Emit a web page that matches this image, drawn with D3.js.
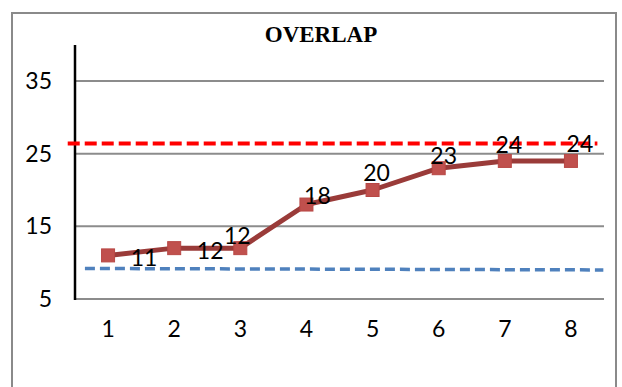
<!DOCTYPE html>
<html>
<head>
<meta charset="utf-8">
<script src="https://cdn.jsdelivr.net/npm/d3@7/dist/d3.min.js"></script>
<style>
  html, body { margin: 0; padding: 0; background: #fff; }
  svg { display: block; }
</style>
</head>
<body>
<svg id="chart" width="622" height="387"></svg>
<script>
// Overlap per step
const categories = ["1", "2", "3", "4", "5", "6", "7", "8"];
const overlapValues = [11, 12, 12, 18, 20, 23, 24, 24];
const yTicks = [5, 15, 25, 35];
// Reference limits (value at start, value at end)
const upperLimit = [26.4, 26.4];
const lowerLimit = [9.2, 9.0];
const chartTitle = "OVERLAP";

const svg = d3.select("#chart");
const plot = { left: 75, right: 604, top: 45, bottom: 299 };
const labelFont = "Lato, 'Open Sans', sans-serif";
const labelSize = 23;

// Outer frame
svg.append("rect")
  .attr("x", 12).attr("y", 13)
  .attr("width", 604).attr("height", 400)
  .attr("fill", "#fff")
  .attr("stroke", "#8a8a8a")
  .attr("stroke-width", 2);

// Title
svg.append("text")
  .attr("x", 321).attr("y", 42)
  .attr("text-anchor", "middle")
  .attr("font-family", "'Liberation Serif', 'Times New Roman', serif")
  .attr("font-weight", "bold")
  .attr("font-size", 23)
  .attr("fill", "#000")
  .text(chartTitle);

// Scales
const x = d3.scaleBand().domain(categories).range([plot.left, plot.right]);
const xPos = d3.scaleLinear().domain([0.5, categories.length + 0.5]).range([plot.left, plot.right]);
const y = d3.scaleLinear().domain([5, 35]).range([plot.bottom, 81]);
const cx = c => x(c) + x.bandwidth() / 2;

// Gridlines
svg.append("g").selectAll("line")
  .data(yTicks)
  .join("line")
  .attr("x1", plot.left).attr("x2", plot.right)
  .attr("y1", d => y(d)).attr("y2", d => y(d))
  .attr("stroke", "#8c8c8c")
  .attr("stroke-width", 2);

// Y axis
const yAxis = d3.axisLeft(y).tickValues(yTicks).tickSize(0).tickPadding(23);
const gy = svg.append("g")
  .attr("transform", `translate(${plot.left},0)`)
  .call(yAxis);
gy.select(".domain").remove();
gy.selectAll("text")
  .attr("font-family", labelFont)
  .attr("font-size", labelSize)
  .attr("fill", "#000");
svg.append("line")
  .attr("x1", plot.left).attr("x2", plot.left)
  .attr("y1", plot.top).attr("y2", plot.bottom + 1)
  .attr("stroke", "#000")
  .attr("stroke-width", 2.5);

// X axis labels
const xAxis = d3.axisBottom(x).tickSize(0).tickPadding(22);
const gx = svg.append("g")
  .attr("transform", `translate(0,${plot.bottom})`)
  .call(xAxis);
gx.select(".domain").remove();
gx.selectAll("text")
  .attr("font-family", labelFont)
  .attr("font-size", labelSize)
  .attr("fill", "#000");

// Reference limit lines
const limitLine = d3.line().x(d => xPos(d[0])).y(d => y(d[1]));
svg.append("path")
  .datum([[0.39, upperLimit[0]], [8.4, upperLimit[1]]])
  .attr("d", limitLine)
  .attr("fill", "none")
  .attr("stroke", "#ff0000")
  .attr("stroke-width", 4)
  .attr("stroke-dasharray", "12 5");
svg.append("path")
  .datum([[0.65, lowerLimit[0]], [8.49, lowerLimit[1]]])
  .attr("d", limitLine)
  .attr("fill", "none")
  .attr("stroke", "#4f81bd")
  .attr("stroke-width", 3.5)
  .attr("stroke-dasharray", "10 5");

// Overlap series
const pts = categories.map((c, i) => ({ c, v: overlapValues[i] }));
svg.append("path")
  .datum(pts)
  .attr("d", d3.line().x(d => cx(d.c)).y(d => y(d.v)))
  .attr("fill", "none")
  .attr("stroke", "#9a3b39")
  .attr("stroke-width", 5)
  .attr("stroke-linejoin", "round");
const ms = 13;
svg.append("g").selectAll("rect")
  .data(pts)
  .join("rect")
  .attr("x", d => cx(d.c) - ms / 2)
  .attr("y", d => y(d.v) - ms / 2)
  .attr("width", ms).attr("height", ms)
  .attr("fill", "#c0504d")
  .attr("stroke", "#b84845")
  .attr("stroke-width", 1);

// Value labels, nudged clear of the line
const labelNudge = [[36, 2], [36, 2], [-3, -13], [11, -10], [4, -18], [5, -13], [4, -17], [9, -18]];
svg.append("g").selectAll("text")
  .data(pts)
  .join("text")
  .attr("x", (d, i) => cx(d.c) + labelNudge[i][0])
  .attr("y", (d, i) => y(d.v) + labelNudge[i][1])
  .attr("text-anchor", "middle")
  .attr("dominant-baseline", "central")
  .attr("font-family", labelFont)
  .attr("font-size", labelSize)
  .attr("fill", "#000")
  .text(d => d.v);
</script>
</body>
</html>
